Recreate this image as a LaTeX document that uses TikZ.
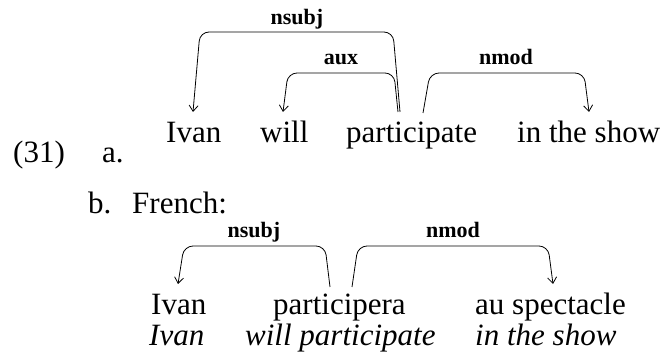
\documentclass[tikz,border=0pt]{standalone}
\usepackage{fontspec}
\setmainfont{Liberation Serif}
\usetikzlibrary{arrows.meta}
\begin{document}
\begin{tikzpicture}[x=1pt,y=-1pt,
  word/.style={inner sep=0pt, anchor=base west, font=\fontsize{31}{36}\selectfont},
  gloss/.style={word, font=\fontsize{31}{36}\selectfont\itshape},
  rel/.style={inner sep=0pt, anchor=base, font=\fontsize{22}{24}\selectfont\bfseries},
  deparc/.style={line width=0.8pt, rounded corners=9pt, -{Straight Barb[length=6pt,width=9pt]}}]
\useasboundingbox (0,0) rectangle (665,358);
% row a
\node[word] (ex) at (13,163) {(31)};
\node[word] (la) at (102,163) {a.};
\node[word] (ivan) at (166,143) {Ivan};
\node[word] (will) at (260,143) {will};
\node[word] (part) at (346,143) {participate};
\node[word] (show) at (517,143) {in the show};
% row b
\node[word] (lb) at (88,214) {b.};
\node[word] (fr) at (132,214) {French:};
\node[word] (ivanb) at (151,315) {Ivan};
\node[word] (partb) at (273,315) {participera};
\node[word] (au) at (475,315) {au spectacle};
\node[gloss] (g1) at (149,346) {Ivan};
\node[gloss] (g2) at (245,346) {will participate};
\node[gloss] (g3) at (475,346) {in the show};
% arc endpoints
\coordinate (a-ns-s) at (400,112);
\coordinate (a-ns-t) at (193,112);
\coordinate (a-aux-s) at (398,112);
\coordinate (a-aux-t) at (283,112);
\coordinate (a-nm-s) at (423,113);
\coordinate (a-nm-t) at (589,112);
\coordinate (b-ns-s) at (330,287);
\coordinate (b-ns-t) at (178,284);
\coordinate (b-nm-s) at (352,287);
\coordinate (b-nm-t) at (553,284);
% arcs row a
\draw[deparc] (a-ns-s) -- (393,32) -- (200,32) -- (a-ns-t);
\draw[deparc] (a-aux-s) -- (394,73) -- (288,73) -- (a-aux-t);
\draw[deparc] (a-nm-s) -- (430,73) -- (584,73) -- (a-nm-t);
\node[rel] (l-ns) at (297,25) {nsubj};
\node[rel] (l-aux) at (341,65) {aux};
\node[rel] (l-nm) at (506,65) {nmod};
% arcs row b
\draw[deparc] (b-ns-s) -- (325,246) -- (184,246) -- (b-ns-t);
\draw[deparc] (b-nm-s) -- (358,246) -- (548,246) -- (b-nm-t);
\node[rel] (l-nsb) at (254,238) {nsubj};
\node[rel] (l-nmb) at (453,238) {nmod};
\end{tikzpicture}
\end{document}
